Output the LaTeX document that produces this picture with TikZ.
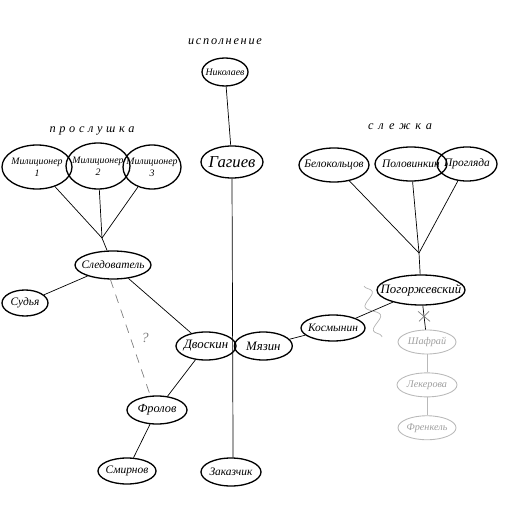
\documentclass[tikz,border=0pt]{standalone}
\usepackage{fontspec}
\setmainfont{Liberation Serif}
\usetikzlibrary{shapes.geometric}
\usetikzlibrary{positioning}
\usetikzlibrary{decorations.pathmorphing}

\begin{document}
\begin{tikzpicture}[x=0.2mm,y=-0.2mm,node distance=3.6mm,
          person/.style={draw,line width=0.75pt,ellipse,inner xsep=-6pt,inner ysep=0pt,minimum width=12mm,minimum height=5.6mm,font=\fontsize{6.5}{7.5}\selectfont\itshape},
          bigperson/.style={person,font=\fontsize{7.3}{8}\selectfont\itshape},
          smallperson/.style={person,font=\fontsize{5.6}{7}\selectfont\itshape},
          faintperson/.style={person,line width=0.5pt,draw=gray!55,text=gray!75,minimum width=11.6mm,minimum height=4.8mm,font=\fontsize{5.8}{7}\selectfont\itshape},
          grouplabel/.style={font=\fontsize{7}{9}\selectfont\itshape\addfontfeature{LetterSpace=30}}]
          \useasboundingbox (0,0) rectangle (509,512);
          \node[grouplabel,font=\fontsize{7}{9}\selectfont\itshape\addfontfeature{LetterSpace=14}](lblexec) at (225,42){исполнение};
          \node[grouplabel](lbllisten) at (92,131){прослушка};
          \node[grouplabel,font=\fontsize{7}{9}\selectfont\itshape\addfontfeature{LetterSpace=40}](lblwatch) at (400,127){слежка};
          \node[smallperson,minimum width=9.2mm](nikolaev) at (225,72){Николаев};
          \node[person,minimum width=12.4mm,minimum height=6.4mm,font=\fontsize{9.5}{11}\selectfont\itshape](gagiev) at (232,162){Гагиев};
          \node[smallperson,align=center,minimum width=14mm,minimum height=8.8mm](mil1) at (37,167){Милиционер\\1};
          \node[smallperson,align=center,minimum width=12.8mm,minimum height=9.2mm](mil2) at (98,166){Милиционер\\2};
          \node[smallperson,align=center,minimum width=11.6mm,minimum height=8.8mm](mil3) at (152,167){Милиционер\\3};
          \coordinate (jm) at (102,238);
          \node[person,minimum width=15.2mm](sled) at (113,265){Следователь};
          \node[person,minimum width=9.2mm,minimum height=5.2mm](sudya) at (25,303){Судья};
          \node[bigperson](dvoskin) at (206,346){Двоскин};
          \node[bigperson,right=-0.6mm of dvoskin,minimum width=11.6mm](myazin){Мязин};
          \node[person,minimum width=12.8mm,minimum height=5.2mm](kosmynin) at (333,328){Космынин};
          \node[bigperson,minimum width=17.6mm,minimum height=6mm](pogor) at (421,290){Погоржевский};
          \node[person,minimum width=14mm,minimum height=6.8mm](belok) at (334,165){Белокольцов};
          \node[person,minimum width=14.4mm,minimum height=6.8mm](polov) at (411,164){Половинкин};
          \node[person,minimum width=12mm,minimum height=6.8mm](progl) at (467,164){Прогляда};
          \coordinate (js) at (419,253);
          \node[faintperson](shafrai) at (427,342){Шафрай};
          \node[faintperson,below=of shafrai,minimum width=12mm](lekerova){Лекерова};
          \node[faintperson,below=of lekerova](frenkel){Френкель};
          \node[bigperson,font=\fontsize{7}{8}\selectfont\itshape](frolov) at (157,410){Фролов};
          \node[person,minimum width=11.6mm,minimum height=5.2mm](smirnov) at (127,471){Смирнов};
          \node[person](zakaz) at (231,472){Заказчик};
          \draw (nikolaev)--(gagiev);
          \draw (gagiev.south)--(zakaz.82);
          \draw (mil1)--(jm);
          \draw (mil2)--(jm);
          \draw (mil3)--(jm);
          \draw (jm)--(sled);
          \draw (sled)--(sudya);
          \draw (sled)--(dvoskin);
          \draw[dashed,gray,dash pattern=on 5pt off 4pt](sled.260)--(frolov.115)
            node[pos=.5,right=1mm,font=\fontsize{8}{9}\selectfont\itshape]{?};
          \draw (dvoskin)--(frolov);
          \draw (frolov)--(smirnov);
          \draw (myazin)--(kosmynin);
          \draw (kosmynin)--(pogor);
          \draw (belok)--(js);
          \draw (polov)--(js);
          \draw (progl)--(js);
          \draw (js)--(pogor);
          \draw[gray!60,decorate,decoration={snake,segment length=5mm,amplitude=1.2mm}](364,286)--(382,337);
          \draw (pogor)--(shafrai) coordinate[pos=.45](cut);
          \draw[gray] (cut)+(-6,-5)--+(6,5) (cut)+(-5,5)--+(5,-5);
          \draw[gray!55] (shafrai)--(lekerova);
          \draw[gray!55] (lekerova)--(frenkel);
        \end{tikzpicture}
\end{document}
